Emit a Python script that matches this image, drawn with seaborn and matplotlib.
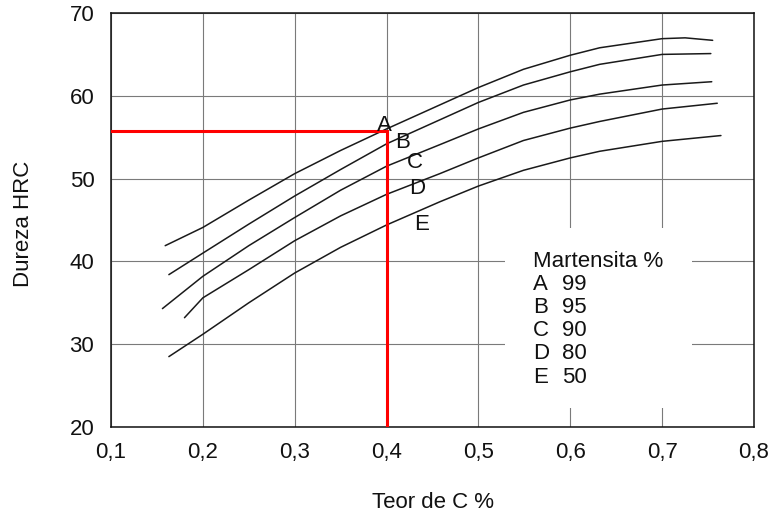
import matplotlib
matplotlib.use("Agg")
import matplotlib.pyplot as plt
from matplotlib.patches import Rectangle
import seaborn as sns
import pandas as pd

# ---- data ----
curve_names = ["A", "B", "C", "D", "E"]
martensite_pct = [99, 95, 90, 80, 50]

a_x = [0.159, 0.2, 0.25, 0.3, 0.35, 0.4, 0.458, 0.5, 0.549, 0.6, 0.632, 0.7, 0.725, 0.755]
a_y = [41.9, 44.1, 47.4, 50.6, 53.4, 56.0, 58.9, 61.0, 63.2, 64.9, 65.8, 66.9, 67.0, 66.7]
b_x = [0.163, 0.2, 0.25, 0.3, 0.35, 0.4, 0.458, 0.5, 0.549, 0.6, 0.632, 0.7, 0.753]
b_y = [38.4, 41.0, 44.5, 47.9, 51.1, 54.2, 57.1, 59.2, 61.3, 62.9, 63.8, 65.0, 65.1]
c_x = [0.156, 0.2, 0.25, 0.3, 0.35, 0.4, 0.458, 0.5, 0.549, 0.6, 0.632, 0.7, 0.754]
c_y = [34.3, 38.2, 41.9, 45.3, 48.6, 51.5, 54.1, 56.0, 58.0, 59.5, 60.2, 61.3, 61.7]
d_x = [0.180, 0.2, 0.25, 0.3, 0.35, 0.4, 0.458, 0.5, 0.549, 0.6, 0.632, 0.7, 0.760]
d_y = [33.2, 35.6, 39.0, 42.5, 45.5, 48.1, 50.6, 52.5, 54.6, 56.1, 56.9, 58.4, 59.1]
e_x = [0.163, 0.2, 0.25, 0.3, 0.35, 0.4, 0.458, 0.5, 0.549, 0.6, 0.632, 0.7, 0.764]
e_y = [28.5, 31.2, 35.0, 38.6, 41.7, 44.4, 47.2, 49.1, 51.0, 52.5, 53.3, 54.5, 55.2]

# curve letter label positions
label_x = [0.398, 0.417, 0.431, 0.433, 0.438]
label_y = [56.4, 54.3, 52.0, 48.8, 44.4]

# red reading guide (C = 0.4 %, HRC ~ 55.8)
red_x = [0.1, 0.4, 0.4]
red_y = [55.8, 55.8, 20]

x_ticks = [0.1, 0.2, 0.3, 0.4, 0.5, 0.6, 0.7, 0.8]
x_ticklabels = ["0,1", "0,2", "0,3", "0,4", "0,5", "0,6", "0,7", "0,8"]
y_ticks = [20, 30, 40, 50, 60, 70]

# ---- build long-form table ----
frames = []
for name, xs, ys in zip(curve_names, [a_x, b_x, c_x, d_x, e_x], [a_y, b_y, c_y, d_y, e_y]):
    frames.append(pd.DataFrame({"x": xs, "y": ys, "curve": name}))
df = pd.concat(frames, ignore_index=True)

sns.set_theme(style="white")
plt.rcParams["font.family"] = ["Liberation Sans", "DejaVu Sans"]
FS = 16

fig = plt.figure(figsize=(7.7, 5.12), dpi=100)
ax = fig.add_axes([111 / 770, 1 - 427 / 512, (754 - 111) / 770, (427 - 13) / 512])

ax.set_axisbelow(True)
ax.grid(True, color="#7a7a7a", linewidth=0.8)

sns.lineplot(data=df, x="x", y="y", hue="curve", palette=["#1a1a1a"] * 5,
             linewidth=1.1, legend=False, sort=True, estimator=None, ax=ax, zorder=3)

ax.plot(red_x, red_y, color="#ff0000", linewidth=2.2, zorder=4, solid_joinstyle="miter")

for name, lx, ly in zip(curve_names, label_x, label_y):
    ax.text(lx, ly, name, fontsize=FS, ha="center", va="center", color="#111111", zorder=5)

# white panel for the key (covers the grid, no border)
ax.add_patch(Rectangle((0.529, 22.3), 0.2035, 21.7, facecolor="white", edgecolor="none", zorder=1))
ax.text(0.5594, 40.0, "Martensita %", fontsize=FS, ha="left", va="center", color="#111111", zorder=5)
row_y = [37.15, 34.45, 31.6, 28.85, 25.95]
for name, pct, ry in zip(curve_names, martensite_pct, row_y):
    ax.text(0.5594, ry, name, fontsize=FS, ha="left", va="center", color="#111111", zorder=5)
    ax.text(0.591, ry, str(pct), fontsize=FS, ha="left", va="center", color="#111111", zorder=5)

ax.set_xlim(0.1, 0.8)
ax.set_ylim(20, 70)
ax.set_xticks(x_ticks)
ax.set_xticklabels(x_ticklabels)
ax.set_yticks(y_ticks)
ax.tick_params(axis="both", length=0, labelsize=FS, colors="#111111")
ax.tick_params(axis="x", pad=11)
ax.tick_params(axis="y", pad=12)

for sp in ax.spines.values():
    sp.set_visible(True)
    sp.set_color("#111111")
    sp.set_linewidth(1.1)

ax.set_xlabel("Teor de C %", fontsize=FS, color="#111111")
ax.set_ylabel("Dureza HRC", fontsize=FS, color="#111111")
ax.xaxis.set_label_coords(0.5, -(503 - 427) / 414)
ax.xaxis.label.set_va("center")
ax.yaxis.set_label_coords((24 - 111) / 643, 0.49)
ax.yaxis.label.set_va("center")

fig.savefig("out.png", dpi=100, facecolor="white")
